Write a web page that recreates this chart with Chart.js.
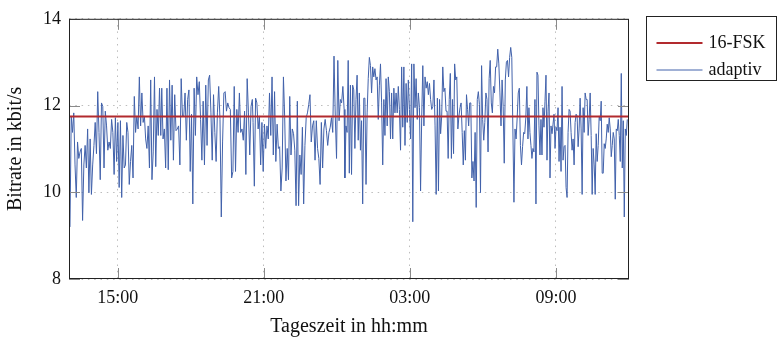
<!DOCTYPE html>
<html>
<head>
<meta charset="utf-8">
<script src="https://cdn.jsdelivr.net/npm/chart.js@4.4.1/dist/chart.umd.min.js"></script>
<style>
    html, body { margin: 0; padding: 0; background: #fff; }
</style>
</head>
<body>
<canvas id="bitrateChart" width="784" height="343"></canvas>
<script>
// x axis: hours after 13:00
const tickHours = [2, 8, 14, 20];
const tickLabels = ['15:00', '21:00', '03:00', '09:00'];
const yTicks = [8, 10, 12, 14];

// 16-FSK fixed bitrate
const fskRate = 11.75;

// adaptive bitrate, read in six stretches (start/end hour of each)
const segStartH = [0.04, 3.81, 7.56, 11.33, 15.13, 18.89];
const segEndH = [3.77, 7.53, 11.30, 15.08, 18.85, 22.93];

const adaptiv1 = [9.20, 11.76, 11.38, 11.83, 10.63, 9.88, 11.16, 10.78, 10.93, 11.01, 9.35, 10.63, 11.08, 10.56, 11.46, 9.99, 11.23, 9.95, 10.63, 11.08, 11.61, 10.89, 12.32, 11.38, 10.29, 12.06, 11.98, 10.56, 11.87, 11.53, 10.97, 11.16, 11.01, 11.68, 11.38, 10.41, 11.72, 10.71, 11.61, 10.11, 11.65, 9.88, 11.31, 10.56, 10.63, 11.61, 11.38, 10.18, 10.71, 11.08, 10.33, 12.21, 11.38, 11.76, 11.46, 12.66, 11.53, 12.29, 11.61, 11.76, 11.23, 11.01, 11.53, 10.56, 12.59, 10.29, 10.93, 12.66, 10.59, 11.91, 11.31, 12.40, 11.31];
const adaptiv2 = [12.40, 11.23, 11.46, 10.56, 12.40, 10.52, 12.59, 11.20, 12.47, 10.74, 12.25, 11.42, 11.46, 11.53, 10.63, 12.62, 11.76, 11.76, 12.29, 11.20, 12.14, 12.36, 10.48, 11.80, 9.73, 12.40, 11.31, 12.66, 12.25, 12.55, 11.68, 10.74, 12.10, 10.63, 12.47, 11.08, 12.59, 12.70, 11.83, 10.74, 12.25, 11.38, 10.71, 11.83, 12.44, 11.68, 9.43, 11.16, 12.29, 12.32, 11.87, 12.06, 11.95, 11.91, 10.33, 10.48, 12.44, 10.48, 11.91, 11.38, 12.29, 11.38, 11.46, 11.20, 11.87, 10.41, 12.62, 11.83, 10.86, 11.98, 12.14];
const adaptiv3 = [11.61, 10.14, 12.17, 12.06, 11.46, 11.76, 10.63, 11.61, 10.48, 11.57, 11.01, 11.53, 11.23, 12.29, 11.31, 12.66, 10.86, 12.32, 10.71, 11.57, 11.01, 11.05, 10.03, 10.56, 12.66, 11.72, 10.26, 11.01, 10.29, 12.21, 10.86, 11.46, 11.35, 10.97, 9.69, 12.10, 9.69, 10.86, 10.41, 11.50, 9.73, 11.08, 11.72, 11.83, 12.02, 12.25, 11.16, 11.53, 11.65, 10.74, 11.65, 11.01, 10.78, 10.18, 11.61, 10.56, 11.46, 11.68, 11.42, 11.08, 11.38, 11.50, 11.72, 11.38, 13.14, 11.76, 10.78, 13.04, 11.65, 12.14, 12.06, 12.44, 11.91];
const adaptiv4 = [10.33, 11.53, 11.38, 13.04, 10.44, 12.47, 10.41, 12.47, 12.36, 11.01, 12.14, 12.70, 11.20, 12.29, 10.97, 11.65, 9.73, 12.17, 12.17, 10.18, 11.83, 12.62, 13.11, 12.92, 12.29, 12.89, 12.66, 12.85, 12.59, 12.66, 11.68, 12.47, 12.96, 12.06, 10.63, 12.14, 11.31, 12.62, 11.53, 12.66, 12.32, 11.23, 12.29, 11.23, 12.40, 11.83, 12.29, 11.83, 12.44, 11.91, 10.97, 12.89, 11.50, 12.89, 11.08, 12.51, 11.61, 12.59, 11.91, 11.23, 12.96, 9.32, 12.96, 11.95, 12.62, 11.68, 12.29, 11.95, 10.03, 11.72, 12.92, 11.53, 12.66, 12.40, 12.55, 12.25, 12.51, 12.14, 11.91, 11.98, 12.59, 11.53, 9.95];
const adaptiv5 = [12.17, 10.03, 12.14, 11.35, 11.76, 12.89, 12.32, 12.40, 11.87, 11.87, 10.78, 12.14, 12.74, 10.78, 12.14, 10.89, 12.96, 12.59, 12.66, 11.46, 11.76, 11.95, 12.06, 11.38, 10.63, 11.42, 10.74, 12.25, 11.91, 11.53, 12.06, 12.06, 10.33, 10.71, 10.26, 11.38, 9.65, 12.14, 12.32, 12.02, 9.99, 12.92, 11.68, 11.20, 11.61, 12.29, 12.14, 10.93, 12.62, 13.04, 12.06, 11.83, 12.44, 12.29, 12.89, 12.89, 13.30, 12.96, 12.29, 11.53, 12.59, 11.98, 10.67, 12.59, 13.00, 13.04, 12.66, 13.11, 13.34, 13.11, 11.46, 9.77, 11.46, 11.23, 11.72, 12.29, 12.40, 11.08, 10.63, 11.05, 11.38, 11.35, 11.72, 12.44, 11.23];
const adaptiv6 = [11.95, 11.38, 11.08, 10.78, 11.01, 10.93, 12.14, 9.73, 12.77, 12.70, 11.53, 10.86, 11.68, 10.86, 11.95, 11.50, 12.10, 12.70, 10.74, 11.87, 12.29, 10.33, 11.53, 11.35, 11.57, 11.80, 11.01, 11.50, 11.42, 11.95, 10.71, 11.50, 10.48, 12.44, 10.74, 11.05, 11.08, 10.11, 9.88, 11.38, 11.91, 11.87, 11.38, 10.97, 11.23, 10.63, 11.61, 11.80, 11.76, 11.05, 11.46, 12.17, 11.46, 9.95, 11.95, 11.38, 12.29, 12.14, 12.14, 11.31, 11.68, 12.29, 11.31, 9.95, 11.01, 10.63, 9.95, 11.35, 10.71, 11.08, 11.76, 11.65, 12.10, 10.44, 10.44, 11.12, 11.01, 11.23, 11.57, 11.38, 11.72, 11.46, 10.82, 11.08, 11.38, 11.23, 9.84, 11.46, 11.42, 11.68, 11.31, 10.71, 12.74, 10.56, 11.65, 9.43, 11.46, 11.31, 11.68];

const segments = [adaptiv1, adaptiv2, adaptiv3, adaptiv4, adaptiv5, adaptiv6];

const adaptivPoints = [];
segments.forEach((vals, s) => {
    const step = (segEndH[s] - segStartH[s]) / (vals.length - 1);
    vals.forEach((v, i) => {
        adaptivPoints.push({x: segStartH[s] + i * step, y: v});
    });
});

const xMin = 0;
const xMax = 23;
const fskPoints = [{x: xMin, y: fskRate}, {x: xMax, y: fskRate}];

const serif = '"Liberation Serif", "DejaVu Serif", serif';
Chart.defaults.font.family = serif;
Chart.defaults.color = '#111';

// frame, inward ticks and the boxed legend like pgfplots
const framePlugin = {
    id: 'framePlugin',
    afterDatasetsDraw(chart) {
        const {ctx, chartArea: a, scales} = chart;
        const tickLen = 11;
        ctx.save();
        ctx.strokeStyle = '#8a8a8a';
        ctx.lineWidth = 1;
        ctx.beginPath();
        yTicks.forEach(v => {
            const py = Math.round(scales.y.getPixelForValue(v)) + 0.5;
            ctx.moveTo(a.left, py);
            ctx.lineTo(a.left + tickLen, py);
            ctx.moveTo(a.right - tickLen, py);
            ctx.lineTo(a.right, py);
        });
        tickHours.forEach(v => {
            const px = Math.round(scales.x.getPixelForValue(v)) + 0.5;
            ctx.moveTo(px, a.bottom);
            ctx.lineTo(px, a.bottom - tickLen);
            ctx.moveTo(px, a.top);
            ctx.lineTo(px, a.top + tickLen);
        });
        ctx.stroke();

        ctx.strokeStyle = '#222';
        ctx.strokeRect(a.left + 0.5, a.top + 0.5, a.right - a.left - 1, a.bottom - a.top - 1);

        // legend
        const lx = a.right + 17.5;
        const ly = 16.5;
        ctx.strokeRect(lx, ly, 130, 64);
        chart.data.datasets.forEach((ds, i) => {
            const yy = 43 + i * 27;
            ctx.strokeStyle = ds.borderColor;
            ctx.lineWidth = ds.borderWidth;
            ctx.beginPath();
            ctx.moveTo(lx + 10, yy);
            ctx.lineTo(lx + 56, yy);
            ctx.stroke();
            ctx.fillStyle = '#111';
            ctx.font = '18px ' + serif;
            ctx.textBaseline = 'alphabetic';
            ctx.fillText(ds.label, lx + 62, yy + 5);
        });
        ctx.restore();
    }
};

const ctx = document.getElementById('bitrateChart');

new Chart(ctx, {
    type: 'line',
    data: {
        datasets: [{
                label: '16-FSK',
                data: fskPoints,
                borderColor: '#b22a2e',
                backgroundColor: '#b22a2e',
                borderWidth: 2,
                pointRadius: 0
            }, {
                label: 'adaptiv',
                data: adaptivPoints,
                borderColor: '#4262ab',
                backgroundColor: '#4262ab',
                borderWidth: 1,
                pointRadius: 0,
                tension: 0
            }]
    },
    options: {
        responsive: false,
        animation: false,
        layout: {
            padding: {top: 15, right: 155, left: 0, bottom: 0}
        },
        plugins: {
            legend: {display: false},
            tooltip: {enabled: false}
        },
        scales: {
            x: {
                type: 'linear',
                min: xMin,
                max: xMax,
                afterBuildTicks: (s) => {
                    s.ticks = tickHours.map(v => ({value: v}));
                },
                afterFit: (s) => {
                    s.height = 64;
                },
                ticks: {
                    callback: (v) => tickLabels[tickHours.indexOf(v)],
                    font: {size: 18},
                    padding: 8,
                    maxRotation: 0,
                    autoSkip: false
                },
                grid: {
                    color: '#bdbdbd',
                    drawTicks: false
                },
                border: {
                    display: false,
                    dash: [1.5, 4.8]
                },
                title: {
                    display: true,
                    text: 'Tageszeit in hh:mm',
                    font: {size: 20},
                    padding: {top: 0, bottom: 4}
                }
            },
            y: {
                min: 8,
                max: 14,
                afterBuildTicks: (s) => {
                    s.ticks = yTicks.map(v => ({value: v}));
                },
                afterFit: (s) => {
                    s.width = 69;
                },
                ticks: {
                    font: {size: 18},
                    padding: 8
                },
                grid: {
                    color: '#bdbdbd',
                    drawTicks: false
                },
                border: {
                    display: false,
                    dash: [1.5, 4.8]
                },
                title: {
                    display: true,
                    text: 'Bitrate in kbit/s',
                    font: {size: 20},
                    padding: {top: 4, bottom: 0}
                }
            }
        }
    },
    plugins: [framePlugin]
});
</script>
</body>
</html>
